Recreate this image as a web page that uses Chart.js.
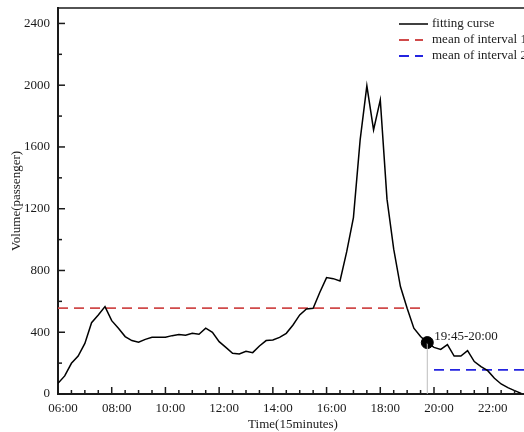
<!DOCTYPE html>
<html>
<head>
<meta charset="utf-8">
<script src="https://cdn.jsdelivr.net/npm/chart.js@4.4.1/dist/chart.umd.min.js"></script>
<style>
  html,body{margin:0;padding:0;background:#fff;overflow:hidden}
  #wrap{width:535px;height:432px}
</style>
</head>
<body>
<div id="wrap"><canvas id="c"></canvas></div>
<script>
// ── data (one value per 15-minute slot, slot 0 = 06:00) ─────────────────────
const volume = [
   69, 117, 199, 246, 328, 462, 512, 566, 475, 426,
  372, 346, 335, 354, 367, 367, 367, 378, 385, 380,
  393, 387, 426, 400, 339, 302, 264, 259, 277, 268,
  311, 346, 350, 367, 393, 447, 512, 551, 555, 659,
  754, 747, 732, 922,1143,1646,1996,1711,1905,1262,
  938, 696, 555, 426, 372, 333, 302, 289, 320, 246,
  246, 281, 210, 177, 151, 102,  65,  41,  22,   4
];
const xTickLabels = ["06:00","08:00","10:00","12:00","14:00","16:00","18:00","20:00","22:00"];
const yTicks = [0, 400, 800, 1200, 1600, 2000, 2400];

const mean1 = 556, mean1Slots = [0, 54.5];
const mean2 = 156, mean2Slots = [56, 70];
const markSlot = 55, markLabel = "19:45-20:00";

const seriesNames = ["fitting curse", "mean of interval 1", "mean of interval 2"];

const FONT = "'Liberation Serif', 'Times New Roman', serif";
const FS = 13;
const INK = "#1a1a1a";

// ── plugins ─────────────────────────────────────────────────────────────────
const frame = {
  id: "frame",
  afterDatasetsDraw(chart){
    const { ctx, chartArea: a, scales: { x, y } } = chart;
    ctx.save();
    ctx.strokeStyle = INK;
    // top border
    ctx.lineWidth = 1.5;
    ctx.beginPath(); ctx.moveTo(a.left, a.top); ctx.lineTo(a.right, a.top); ctx.stroke();
    // inward ticks
    for (let s = 0; s <= 70; s += 2) {
      const px = x.getPixelForValue(s), len = s % 8 === 0 ? 7 : 4;
      ctx.beginPath(); ctx.moveTo(px, a.bottom); ctx.lineTo(px, a.bottom - len); ctx.stroke();
    }
    for (let v = 0; v <= 2400; v += 200) {
      const py = y.getPixelForValue(v), len = v % 400 === 0 ? 7 : 4;
      ctx.beginPath(); ctx.moveTo(a.left, py); ctx.lineTo(a.left + len, py); ctx.stroke();
    }
    // marker label
    const mx = x.getPixelForValue(markSlot), my = y.getPixelForValue(volume[markSlot]);
    ctx.fillStyle = INK;
    ctx.font = FS + "px " + FONT;
    ctx.textBaseline = "middle";
    ctx.fillText(markLabel, mx + 7, my - 6);
    // legend
    chart.data.datasets.filter(d => d.legend).forEach((d, i) => {
      const ly = 24 + i * 16;
      ctx.strokeStyle = d.borderColor;
      ctx.lineWidth = d.borderWidth;
      ctx.setLineDash(d.borderDash || []);
      ctx.beginPath(); ctx.moveTo(399, ly); ctx.lineTo(d.borderDash ? 423 : 428, ly); ctx.stroke();
      ctx.setLineDash([]);
      ctx.fillStyle = INK;
      ctx.fillText(d.label, 432, ly);
    });
    ctx.restore();
  }
};

// ── chart ───────────────────────────────────────────────────────────────────
new Chart(document.getElementById("c"), {
  type: "line",
  data: {
    datasets: [
      { label: seriesNames[0], legend: true, data: volume.map((v, i) => ({ x: i, y: v })),
        borderColor: "#000", borderWidth: 1.5, pointRadius: 0, tension: 0 },
      { label: seriesNames[1], legend: true, data: mean1Slots.map(s => ({ x: s, y: mean1 })),
        borderColor: "#d04a4a", borderWidth: 1.8, borderDash: [10, 6], pointRadius: 0 },
      { label: seriesNames[2], legend: true, data: mean2Slots.map(s => ({ x: s, y: mean2 })),
        borderColor: "#2424e0", borderWidth: 1.8, borderDash: [10, 6], pointRadius: 0 },
      { label: "drop", data: [{ x: markSlot, y: 0 }, { x: markSlot, y: volume[markSlot] }],
        borderColor: "#bdbdbd", borderWidth: 1, pointRadius: 0 },
      { label: "mark", data: [{ x: markSlot, y: volume[markSlot] }], showLine: false,
        pointRadius: 6, pointBackgroundColor: "#000", pointBorderColor: "#000" },
    ]
  },
  options: {
    responsive: true, maintainAspectRatio: false, animation: false,
    layout: { padding: { top: 8, right: 0, left: 9, bottom: 0 } },
    plugins: { legend: { display: false }, tooltip: { enabled: false } },
    scales: {
      x: {
        type: "linear", min: 0, max: 70,
        afterBuildTicks: s => { s.ticks = xTickLabels.map((_, i) => ({ value: i * 8 })); },
        afterFit: s => { s.height = 38; s.paddingLeft = 0; s.paddingRight = 0; },
        grid: { display: false, drawTicks: false },
        border: { display: true, color: INK, width: 2 },
        ticks: { callback: (v) => xTickLabels[v / 8], font: { family: FONT, size: FS }, color: INK,
                 padding: 7, labelOffset: 5, maxRotation: 0, autoSkip: false },
        title: { display: true, text: "Time(15minutes)", font: { family: FONT, size: FS }, color: INK, padding: { top: 0, bottom: 0 } }
      },
      y: {
        min: 0, max: 2500,
        afterBuildTicks: s => { s.ticks = yTicks.map(v => ({ value: v })); },
        afterFit: s => { s.width = 49; s.paddingTop = 0; s.paddingBottom = 0; },
        grid: { display: false, drawTicks: false },
        border: { display: true, color: INK, width: 2 },
        ticks: { callback: v => String(v), font: { family: FONT, size: FS }, color: INK, padding: 8 },
        title: { display: true, text: "Volume(passenger)", font: { family: FONT, size: FS }, color: INK, padding: { top: 0, bottom: 0 } }
      }
    }
  },
  plugins: [frame]
});
</script>
</body>
</html>
